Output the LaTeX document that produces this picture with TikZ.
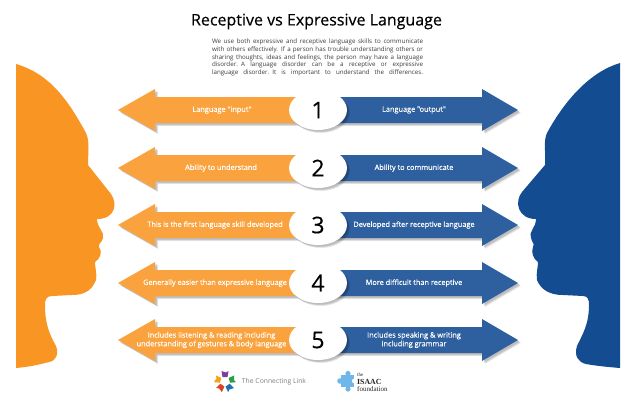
\documentclass[tikz,border=0pt]{standalone}
\usepackage{fontspec}
\setmainfont{Open Sans}
\newfontfamily\semi[FakeBold=0.35]{Open Sans}
\newfontfamily\slab{Liberation Serif}
\usetikzlibrary{calc}
\definecolor{faceO}{HTML}{F99522}
\definecolor{faceB}{HTML}{144C92}
\definecolor{arrO}{HTML}{FAA33E}
\definecolor{arrB}{HTML}{2E5F9F}
\definecolor{bodyT}{HTML}{3C3C3C}
\definecolor{puzzle}{HTML}{6FB7EA}
\tikzset{
  lbl/.style={text=white,font=\semi\fontsize{7.35}{8.7}\selectfont,inner sep=0pt,align=center},
  num/.style={text=black,font=\semi\fontsize{23}{25}\selectfont,inner sep=0pt},
  logotext/.style={inner sep=0pt,text=black!85,anchor=west},
}
\newcommand{\softshadow}[1]{%
  \foreach \dd in {0,1,2,3}{%
    \fill[black,opacity=0.07,shift={(1.5+0.5*\dd,1.5+0.5*\dd)}] #1;
  }%
}
\newcommand{\bodyline}[1]{\leavevmode\hbox to 211pt{\spaceskip=0.26em plus 3em\relax #1}}
\begin{document}
\begin{tikzpicture}[x=1pt,y=-1pt]
\useasboundingbox (0,0) rectangle (635,400);
\fill[white] (0,0) rectangle (635,400);
% faces
\fill[faceO] (16,64) .. controls (50,74) and (68,100) .. (86,133)
  .. controls (90,142) and (88,152) .. (88,165)
  -- (111,194) .. controls (118,204) and (115,219) .. (97,219)
  .. controls (97,228) and (105,232) .. (103,238)
  .. controls (102,243) and (98,243) .. (99,247)
  .. controls (103,252) and (100,259) .. (95,262)
  .. controls (95,268) and (97,272) .. (96,280)
  .. controls (92,290) and (85,295) .. (72,295)
  -- (52,296) .. controls (46,296) and (45,300) .. (45,305)
  .. controls (45,325) and (50,335) .. (56,346)
  .. controls (59,354) and (56,361) .. (49,362)
  .. controls (38,365) and (28,367) .. (16,368) -- cycle;
\fill[faceB] (620,63) .. controls (590,72) and (565,100) .. (547,133)
  .. controls (543,142) and (546,152) .. (545,165)
  -- (522,192) .. controls (514,202) and (518,219) .. (536,219)
  .. controls (536,228) and (528,232) .. (531,238)
  .. controls (532,243) and (535,243) .. (533,247)
  .. controls (531,252) and (533,259) .. (538,262)
  .. controls (538,268) and (536,272) .. (537,280)
  .. controls (541,290) and (550,295) .. (563,295)
  -- (583,296) .. controls (588,296) and (589,300) .. (589,305)
  .. controls (589,325) and (582,335) .. (577,346)
  .. controls (574,356) and (578,362) .. (586,364)
  .. controls (597,366) and (608,367) .. (620,368) -- cycle;
% rows
\foreach \yy/\nn/\lx/\ltxt/\rtxt in {
  110/1/222/{Language "input"}/{Language "output"},
  168/2/221/{Ability to understand}/{Ability to communicate},
  225/3/215/{This is the first language skill developed}/{Developed after receptive language},
  283/4/215/{Generally easier than expressive language}/{More difficult than receptive},
  340/5/211.5/{Includes listening \& reading including\\understanding of gestures \& body language}/{Includes speaking \& writing\\including grammar}}{
  \begin{scope}[shift={(0,\yy)}]
    \softshadow{(118,0) -- (155,-21) -- (155,-13) -- (482,-13) -- (482,-21) -- (518,0) -- (482,21) -- (482,13) -- (155,13) -- (155,21) -- cycle}
    \fill[arrO] (118,0) -- (155,-21) -- (155,-13) -- (318,-13) -- (318,13) -- (155,13) -- (155,21) -- cycle;
    \fill[arrB] (518,0) -- (482,-21) -- (482,-13) -- (318,-13) -- (318,13) -- (482,13) -- (482,21) -- cycle;
    \softshadow{(318,0) ellipse [x radius=29,y radius=20]}
    \fill[white] (318,0) ellipse [x radius=29,y radius=20];
    \node[num] (n\nn) at (318,0) {\nn};
    \node[lbl] (l\nn) at (\lx,0) {\ltxt};
    \node[lbl] (r\nn) at (414,0) {\rtxt};
  \end{scope}
}
% title
\node[inner sep=0pt,font=\semi\fontsize{16}{18}\selectfont,text=black] (title) at (316.5,21.5) {Receptive vs Expressive Language};
\node[inner sep=0pt,text width=211pt,align=left,font=\fontsize{6.2}{7.85}\selectfont,text=bodyT] (body) at (317.5,57.5)
{\bodyline{We use both expressive and receptive language skills to communicate}\\
\bodyline{with others effectively. If a person has trouble understanding others or}\\
\bodyline{sharing thoughts, ideas and feelings, the person may have a language}\\
\bodyline{disorder. A language disorder can be a receptive or expressive}\\
\bodyline{language disorder. It is important to understand the differences.}};
% logos
\begin{scope}[shift={(225,381.5)}]
  \foreach \aa/\cc in {125/E0401B,55/1F6FB5,-15/2E9E45,-90/7B3FA0,195/F7A11A}{
    \definecolor{tmpc}{HTML}{\cc}
    \fill[tmpc,rotate=-\aa] (4.5,-2.5) -- (10.5,-3.5) -- (9,1) -- (10.5,3.5) -- (4.5,2.5) -- cycle;
  }
\end{scope}
\node[inner sep=0pt,font=\fontsize{6.8}{8}\selectfont,text=black!50] (conn) at (274,381.5) {The Connecting Link};
\fill[puzzle] (341,375) rectangle (354,387);
\fill[puzzle] (348,373.5) circle (2.6) (348,389) circle (2.6) (340,381) circle (2.8);
\fill[white] (354.5,381) circle (2.5);
\node[logotext,font=\slab\fontsize{5}{5}\selectfont] (the) at (357,375) {the};
\node[logotext,font=\slab\fontsize{7.8}{8}\selectfont\bfseries] (isaac) at (357,381.5) {ISAAC};
\node[logotext,font=\slab\fontsize{7}{7}\selectfont] (found) at (357,389) {foundation};
\end{tikzpicture}
\end{document}
